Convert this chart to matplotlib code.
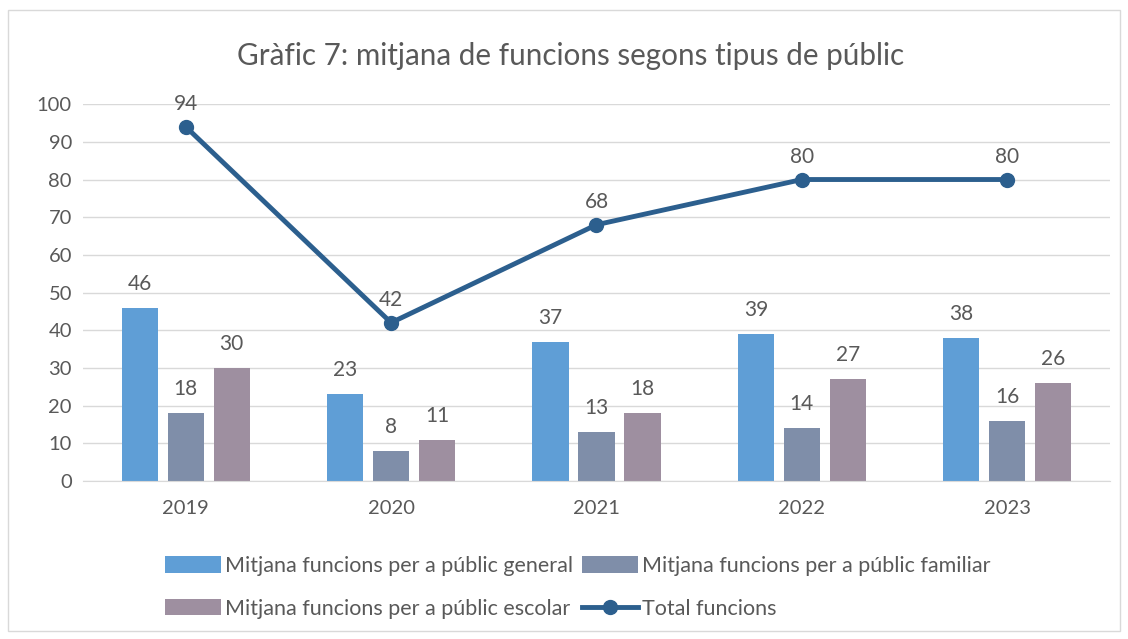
import matplotlib.pyplot as plt
import numpy as np
from matplotlib.patches import Rectangle

plt.rcParams['font.family'] = ['Lato', 'DejaVu Sans']

anys = ['2019', '2020', '2021', '2022', '2023']
general = [46, 23, 37, 39, 38]
familiar = [18, 8, 13, 14, 16]
escolar = [30, 11, 18, 27, 26]
total = [94, 42, 68, 80, 80]

c_gen = '#5f9ed6'
c_fam = '#7f8ea9'
c_esc = '#9e8fa0'
c_tot = '#2c5f8e'
txt = '#595959'

fig = plt.figure(figsize=(11.28, 6.39), dpi=100)
fig.patches.append(Rectangle((0.007, 0.013), 0.986, 0.972, transform=fig.transFigure,
                             fill=False, edgecolor='#d9d9d9', linewidth=1))
ax = fig.add_axes([0.0736, 0.2473, 0.9104, 0.5897])

x = np.arange(len(anys))
w = 0.176
off = 0.224
b1 = ax.bar(x - off, general, w, color=c_gen, label='Mitjana funcions per a públic general', zorder=2)
b2 = ax.bar(x, familiar, w, color=c_fam, label='Mitjana funcions per a públic familiar', zorder=2)
b3 = ax.bar(x + off, escolar, w, color=c_esc, label='Mitjana funcions per a públic escolar', zorder=2)
ln, = ax.plot(x, total, color=c_tot, linewidth=3.5, marker='o', markersize=10,
              label='Total funcions', zorder=3)

for bars, vals in [(b1, general), (b2, familiar), (b3, escolar)]:
    for r, v in zip(bars, vals):
        ax.annotate(str(v), (r.get_x() + r.get_width() / 2, v), xytext=(0, 10),
                    textcoords='offset points', ha='center', va='bottom',
                    fontsize=15, color=txt)
for xi, v in zip(x, total):
    ax.annotate(str(v), (xi, v), xytext=(0, 9), textcoords='offset points',
                ha='center', va='bottom', fontsize=15, color=txt)

ax.set_xlim(-0.5, len(anys) - 0.5)
ax.set_ylim(0, 100)
ax.set_yticks(range(0, 101, 10))
ax.set_xticks(x)
ax.set_xticklabels(anys)
ax.tick_params(axis='both', length=0, labelsize=14.5, labelcolor=txt)
ax.tick_params(axis='x', pad=14)
ax.tick_params(axis='y', pad=8)
ax.grid(axis='y', color='#d9d9d9', linewidth=1, zorder=0)
ax.set_axisbelow(True)
for s in ['top', 'right', 'left']:
    ax.spines[s].set_visible(False)
ax.spines['bottom'].set_color('#d9d9d9')

fig.text(0.506, 0.913, 'Gràfic 7: mitjana de funcions segons tipus de públic',
         ha='center', va='center', fontsize=21.3, color=txt)

handles = [b1, b3, b2, ln]
leg = fig.legend(handles, [h.get_label() for h in handles], ncol=2,
                 loc='center', bbox_to_anchor=(0.512, 0.081), frameon=False,
                 fontsize=15.5, handlelength=2.6, handleheight=0.8, handletextpad=0.2,
                 columnspacing=0.4, labelspacing=1.05, labelcolor=txt)

fig.savefig('out.png', dpi=100)
